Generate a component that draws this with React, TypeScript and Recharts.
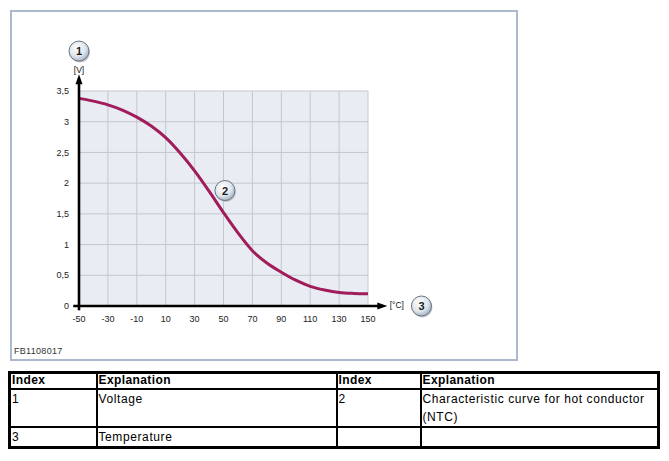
import { LineChart, Line, XAxis, YAxis, CartesianGrid, ReferenceLine, ReferenceDot } from "recharts";

// NTC characteristic curve: temperature [°C] -> voltage [V]
const temperatures = [-50, -40, -30, -20, -10, 0, 10, 20, 30, 40, 50, 60, 70, 80, 90, 100, 110, 120, 130, 140, 150];
const voltages = [3.38, 3.335, 3.275, 3.19, 3.075, 2.93, 2.74, 2.49, 2.2, 1.87, 1.52, 1.19, 0.9, 0.7, 0.55, 0.42, 0.32, 0.26, 0.22, 0.205, 0.2];
const xTicks = [-50, -30, -10, 10, 30, 50, 70, 90, 110, 130, 150];
const yTicks = [0, 0.5, 1, 1.5, 2, 2.5, 3, 3.5];

const tableRows = [
  ["1", "Voltage", "2", "Characteristic curve for hot conductor (NTC)"],
  ["3", "Temperature", "", ""],
];

const data = temperatures.map((t, i) => ({ t, v: voltages[i] }));

const FONT = "'Liberation Sans', Arial, sans-serif";

const ArrowLine = (dir: "up" | "right") => (props: any) => {
  const { x1, y1, x2, y2 } = props;
  const head =
    dir === "up"
      ? `${x2},${y2 - 2} ${x2 - 3.5},${y2 + 8} ${x2 + 3.5},${y2 + 8}`
      : `${x2 + 2},${y2} ${x2 - 8},${y2 - 3.5} ${x2 - 8},${y2 + 3.5}`;
  return (
    <g>
      <line x1={x1} y1={y1} x2={dir === "up" ? x2 : x2 - 6} y2={dir === "up" ? y2 + 6 : y2} stroke="#000" strokeWidth={2.6} />
      <polygon points={head} fill="#000" />
    </g>
  );
};

const Badge = (label: string) => (props: any) => {
  const { cx, cy } = props;
  return (
    <g>
      <circle cx={cx + 1} cy={cy + 1.5} r={10} fill="#9aa3ae" opacity={0.6} />
      <circle cx={cx} cy={cy} r={10} fill="url(#badgeFill)" stroke="#6b7480" strokeWidth={1} />
      <text x={cx} y={cy + 4} textAnchor="middle" fontSize={11} fontWeight="bold" fill="#1a1a1a" fontFamily={FONT}>
        {label}
      </text>
    </g>
  );
};

const UnitLabel = (label: string, anchor: "middle" | "start") => (props: any) => {
  const { cx, cy } = props;
  return (
    <text x={cx} y={cy + 3} textAnchor={anchor} fontSize={8.5} fill="#111" stroke="none" fontFamily={FONT}>
      {label}
    </text>
  );
};

export default function App() {
  return (
    <div style={{ position: "absolute", left: 0, top: 0, width: 669, height: 461, background: "#fff", fontFamily: FONT }}>
      <div
        style={{
          position: "absolute",
          left: 10,
          top: 10,
          width: 508,
          height: 351,
          border: "2px solid #aab9cc",
          boxSizing: "border-box",
        }}
      />
      <div style={{ position: "absolute", left: 14, top: 346, fontSize: 9, color: "#333", letterSpacing: 0.3 }}>FB1108017</div>
      <div style={{ position: "absolute", left: 0, top: 0 }}>
        <svg width={0} height={0} style={{ position: "absolute" }}>
          <defs>
            <radialGradient id="badgeFill" cx="40%" cy="35%" r="70%">
              <stop offset="0%" stopColor="#ffffff" />
              <stop offset="60%" stopColor="#dfe5ec" />
              <stop offset="100%" stopColor="#9fadbd" />
            </radialGradient>
          </defs>
        </svg>
        <LineChart width={669} height={365} data={data} margin={{ top: 91, right: 301, bottom: 39, left: 49 }}>
          <CartesianGrid fill="#e9edf3" fillOpacity={1} stroke="#c2c7cf" strokeWidth={1} />
          <XAxis
            dataKey="t"
            type="number"
            domain={[-50, 150]}
            ticks={xTicks}
            axisLine={false}
            tickLine={false}
            tickSize={0}
            tickMargin={10}
            height={20}
            interval={0}
            tick={{ fontSize: 9, fill: "#222", fontFamily: FONT }}
          />
          <YAxis
            type="number"
            domain={[0, 3.5]}
            ticks={yTicks}
            axisLine={false}
            tickLine={false}
            tickSize={0}
            tickMargin={10}
            width={30}
            interval={0}
            tickFormatter={(v: number) => String(v).replace(".", ",")}
            tick={{ fontSize: 9, fill: "#222", fontFamily: FONT }}
          />
          <Line
            type="monotone"
            dataKey="v"
            stroke="#a01c5a"
            strokeWidth={3}
            dot={false}
            isAnimationActive={false}
          />
          <ReferenceLine
            segment={[{ x: -50, y: -0.07 }, { x: -50, y: 3.74 }]}
            ifOverflow="visible"
            shape={ArrowLine("up")}
          />
          <ReferenceLine
            segment={[{ x: -54, y: 0 }, { x: 162, y: 0 }]}
            ifOverflow="visible"
            shape={ArrowLine("right")}
          />
          <ReferenceDot x={-50} y={4.15} r={10} ifOverflow="visible" shape={Badge("1")} />
          <ReferenceDot x={51} y={1.88} r={10} ifOverflow="visible" shape={Badge("2")} />
          <ReferenceDot x={187} y={0} r={10} ifOverflow="visible" shape={Badge("3")} />
          <ReferenceDot x={-50} y={3.84} r={1} ifOverflow="visible" shape={UnitLabel("[V]", "middle")} />
          <ReferenceDot x={165} y={0.02} r={1} ifOverflow="visible" shape={UnitLabel("[°C]", "start")} />
        </LineChart>
      </div>
      <table
        style={{
          position: "absolute",
          left: 8,
          top: 371,
          width: 652,
          boxSizing: "border-box",
          tableLayout: "fixed",
          borderCollapse: "collapse",
          border: "3px solid #000",
          fontSize: 12,
          color: "#000",
          fontFamily: FONT,
        }}
      >
        <colgroup>
          <col style={{ width: 87 }} />
          <col style={{ width: 240 }} />
          <col style={{ width: 84 }} />
          <col />
        </colgroup>
        <thead>
          <tr style={{ height: 16 }}>
            {["Index", "Explanation", "Index", "Explanation"].map((h, i) => (
              <th
                key={i}
                style={{ border: "2px solid #000", textAlign: "left", padding: "0 1px", fontWeight: "bold", lineHeight: "13px", letterSpacing: 0.4 }}
              >
                {h}
              </th>
            ))}
          </tr>
        </thead>
        <tbody>
          {tableRows.map((row, r) => (
            <tr key={r} style={{ height: r === 0 ? 38 : 19 }}>
              {row.map((cell, c) => (
                <td
                  key={c}
                  style={{ border: "2px solid #000", verticalAlign: "top", padding: "0 1px", lineHeight: "18px", letterSpacing: 0.6 }}
                >
                  {cell}
                </td>
              ))}
            </tr>
          ))}
        </tbody>
      </table>
    </div>
  );
}
